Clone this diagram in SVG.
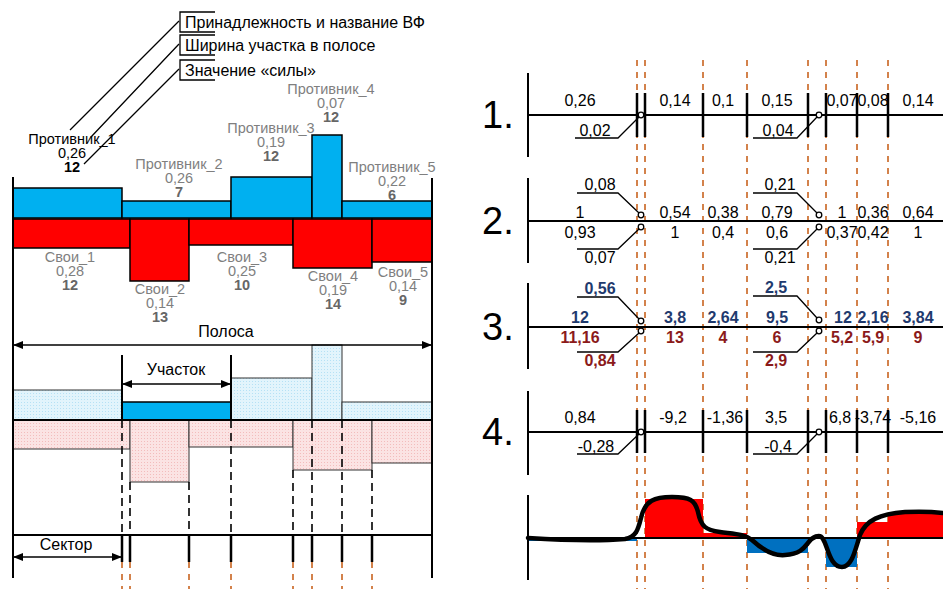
<svg xmlns="http://www.w3.org/2000/svg" width="943" height="589" viewBox="0 0 943 589">
<style>
text{font-family:"Liberation Sans",Arial,sans-serif;font-size:16px;fill:#000}
.s{font-size:14.5px}
.c{text-anchor:middle}
.g{fill:#7f7f7f}
.gd{fill:#666;font-weight:bold}
.b{font-weight:bold}
.nb{fill:#1f3a6e;font-weight:bold}
.nr{fill:#8b1a1a;font-weight:bold}
.big{font-size:38px}
.ln{stroke:#000;stroke-width:2;fill:none}
.thin{stroke:#000;stroke-width:1.3;fill:none}
.dk{stroke:#000;stroke-width:1.6;stroke-dasharray:8 5;fill:none}
.or{stroke:#c55a11;stroke-width:1.5;stroke-dasharray:6 6;fill:none}
.tk{stroke:#000;stroke-width:2.5}
.bl{fill:#00b0f0;stroke:#000;stroke-width:1.5}
.rd{fill:#ff0000;stroke:#000;stroke-width:1.5}
.lb{fill:url(#pb);stroke:#333;stroke-width:1}
.lr{fill:url(#pr);stroke:#333;stroke-width:1}
.cir{fill:#fff;stroke:#000;stroke-width:1.3}
</style>
<defs>
<marker id="ar" viewBox="0 0 10 8" refX="10" refY="4" markerWidth="10" markerHeight="8" markerUnits="userSpaceOnUse" orient="auto-start-reverse"><path d="M0,0 L10,4 L0,8 z" fill="#000"/></marker>
<pattern id="pb" width="3" height="3" patternUnits="userSpaceOnUse"><rect width="3" height="3" fill="#e2f4fc"/><rect width="1" height="1" fill="#b5e1f5"/></pattern>
<pattern id="pr" width="3" height="3" patternUnits="userSpaceOnUse"><rect width="3" height="3" fill="#fbe3e3"/><rect width="1" height="1" fill="#f3bcbc"/></pattern>
</defs>
<rect width="943" height="589" fill="#fff"/>

<g id="legend">
<path class="thin" d="M215,12 H180 V32 H215 M215,35 H180 V55 H215 M215,60 H180 V80 H215"/>
<path class="thin" d="M179,21 L70,130 M179,44 L91,137 M179,69 L84,164"/>
<text x="185" y="28">Принадлежность и название ВФ</text>
<text x="185" y="51">Ширина участка в полосе</text>
<text x="185" y="76">Значение «силы»</text>
</g>

<g id="enemy-bars">
<rect class="bl" x="13" y="188" width="109" height="30"/>
<rect class="bl" x="122" y="201" width="109" height="17"/>
<rect class="bl" x="231" y="177" width="81" height="41"/>
<rect class="bl" x="312" y="135" width="30" height="83"/>
<rect class="bl" x="342" y="201" width="90" height="17"/>
</g>
<g id="own-bars">
<rect class="rd" x="13" y="219" width="117" height="29"/>
<rect class="rd" x="130" y="219" width="59" height="62"/>
<rect class="rd" x="189" y="219" width="104" height="26"/>
<rect class="rd" x="293" y="219" width="79" height="49"/>
<rect class="rd" x="372" y="219" width="60" height="43"/>
</g>

<g id="enemy-labels" class="s">
<text class="c s" x="72" y="144">Противник_1</text>
<text class="c s" x="72" y="158">0,26</text>
<text class="c b s" x="72" y="172">12</text>
<text class="c g s" x="179" y="169">Противник_2</text>
<text class="c g s" x="179" y="183">0,26</text>
<text class="c gd s" x="179" y="197">7</text>
<text class="c g s" x="271" y="133">Противник_3</text>
<text class="c g s" x="271" y="147">0,19</text>
<text class="c gd s" x="271" y="161">12</text>
<text class="c g s" x="331" y="94">Противник_4</text>
<text class="c g s" x="331" y="108">0,07</text>
<text class="c gd s" x="331" y="122">12</text>
<text class="c g s" x="392" y="172">Противник_5</text>
<text class="c g s" x="392" y="186">0,22</text>
<text class="c gd s" x="392" y="200">6</text>
</g>
<g id="own-labels">
<text class="c g s" x="70" y="262">Свои_1</text>
<text class="c g s" x="70" y="276">0,28</text>
<text class="c gd s" x="70" y="290">12</text>
<text class="c g s" x="160" y="294">Свои_2</text>
<text class="c g s" x="160" y="308">0,14</text>
<text class="c gd s" x="160" y="322">13</text>
<text class="c g s" x="242" y="262">Свои_3</text>
<text class="c g s" x="242" y="276">0,25</text>
<text class="c gd s" x="242" y="290">10</text>
<text class="c g s" x="333" y="281">Свои_4</text>
<text class="c g s" x="333" y="295">0,19</text>
<text class="c gd s" x="333" y="309">14</text>
<text class="c g s" x="403" y="277">Свои_5</text>
<text class="c g s" x="403" y="291">0,14</text>
<text class="c gd s" x="403" y="305">9</text>
</g>

<g id="light-bars">
<rect class="lb" x="13" y="390" width="109" height="30"/>
<rect class="bl" x="122" y="402" width="109" height="18"/>
<rect class="lb" x="231" y="378" width="81" height="42"/>
<rect class="lb" x="312" y="345" width="30" height="75"/>
<rect class="lb" x="342" y="402" width="90" height="18"/>
<rect class="lr" x="13" y="420" width="117" height="29"/>
<rect class="lr" x="130" y="420" width="59" height="62"/>
<rect class="lr" x="189" y="420" width="104" height="27"/>
<rect class="lr" x="293" y="420" width="79" height="50"/>
<rect class="lr" x="372" y="420" width="60" height="43"/>
<line class="ln" x1="13" y1="420" x2="432" y2="420"/>
</g>

<g id="connectors">
<line class="ln" x1="13" y1="177" x2="13" y2="578"/>
<line class="ln" x1="432" y1="178" x2="432" y2="578"/>
<line class="thin" x1="13" y1="345" x2="432" y2="345" marker-start="url(#ar)" marker-end="url(#ar)"/>
<line class="ln" x1="122" y1="355" x2="122" y2="420"/>
<line class="ln" x1="231" y1="355" x2="231" y2="420"/>
<line class="thin" x1="122" y1="384" x2="231" y2="384" marker-start="url(#ar)" marker-end="url(#ar)"/>
<path class="dk" d="M122,420 V535 M130,482 V535 M189,482 V535 M231,420 V535 M293,470 V535 M312,420 V535 M342,420 V535 M372,470 V535"/>
<line class="ln" x1="13" y1="535" x2="432" y2="535"/>
<path class="tk" d="M122,535 V562 M130,535 V562 M189,535 V562 M231,535 V562 M293,535 V562 M312,535 V562 M342,535 V562 M372,535 V562"/>
<line class="thin" x1="13" y1="557" x2="122" y2="557" marker-start="url(#ar)" marker-end="url(#ar)"/>
<path class="or" d="M122,562 V589 M130,562 V589 M189,562 V589 M231,562 V589 M293,562 V589 M312,562 V589 M342,562 V589 M372,562 V589"/>
</g>
<g id="dim-labels">
<text class="c" x="226" y="337">Полоса</text>
<text class="c" x="176" y="375">Участок</text>
<text class="c" x="66" y="550">Сектор</text>
</g>

<g id="right-grid">
<path class="or" d="M637,60 V589 M645,60 V589 M703,60 V589 M747,60 V589 M808,60 V589 M826,60 V589 M857,60 V589 M888,60 V589"/>
</g>

<g id="row1">
<text class="big" x="482" y="128">1.</text>
<line class="ln" x1="528" y1="73" x2="528" y2="157"/>
<line class="ln" x1="528" y1="115" x2="943" y2="115"/>
<path class="tk" stroke-width="2" d="M637,93 V137 M645,93 V137 M703,93 V137 M747,93 V137 M808,93 V137 M826,93 V137 M857,93 V137 M888,93 V137"/>
<text class="c" x="580" y="106">0,26</text>
<text class="c" x="675" y="106">0,14</text>
<text class="c" x="723" y="106">0,1</text>
<text class="c" x="777" y="106">0,15</text>
<text class="c" x="842" y="106">0,07</text>
<text class="c" x="873" y="106">0,08</text>
<text class="c" x="918" y="106">0,14</text>
<polyline class="thin" points="575,138 618,138 639,117"/>
<circle class="cir" cx="641" cy="115" r="2.8"/>
<text class="c" x="595" y="136">0,02</text>
<polyline class="thin" points="753,138 797,138 817,117"/>
<circle class="cir" cx="819" cy="115" r="2.8"/>
<text class="c" x="778" y="136">0,04</text>
</g>

<g id="row2">
<text class="big" x="482" y="234">2.</text>
<line class="ln" x1="528" y1="178" x2="528" y2="263"/>
<line class="ln" x1="528" y1="221" x2="943" y2="221"/>
<text class="c" x="580" y="218">1</text>
<text class="c" x="675" y="218">0,54</text>
<text class="c" x="723" y="218">0,38</text>
<text class="c" x="777" y="218">0,79</text>
<text class="c" x="842" y="218">1</text>
<text class="c" x="873" y="218">0,36</text>
<text class="c" x="918" y="218">0,64</text>
<text class="c" x="580" y="238">0,93</text>
<text class="c" x="675" y="238">1</text>
<text class="c" x="723" y="238">0,4</text>
<text class="c" x="777" y="238">0,6</text>
<text class="c" x="842" y="238">0,37</text>
<text class="c" x="873" y="238">0,42</text>
<text class="c" x="918" y="238">1</text>
<polyline class="thin" points="577,193 618,193 639,213"/>
<circle class="cir" cx="641" cy="215" r="2.8"/>
<text class="c" x="600" y="190">0,08</text>
<polyline class="thin" points="577,249 618,249 639,229"/>
<circle class="cir" cx="641" cy="227" r="2.8"/>
<text class="c" x="600" y="263">0,07</text>
<polyline class="thin" points="753,193 797,193 817,213"/>
<circle class="cir" cx="819" cy="215" r="2.8"/>
<text class="c" x="780" y="190">0,21</text>
<polyline class="thin" points="753,249 797,249 817,229"/>
<circle class="cir" cx="819" cy="227" r="2.8"/>
<text class="c" x="780" y="263">0,21</text>
</g>

<g id="row3">
<text class="big" x="482" y="340">3.</text>
<line class="ln" x1="528" y1="283" x2="528" y2="369"/>
<line class="ln" x1="528" y1="327" x2="943" y2="327"/>
<text class="c nb" x="580" y="323">12</text>
<text class="c nb" x="675" y="323">3,8</text>
<text class="c nb" x="723" y="323">2,64</text>
<text class="c nb" x="777" y="323">9,5</text>
<text class="c nb" x="843" y="323">12</text>
<text class="c nb" x="873" y="323">2,16</text>
<text class="c nb" x="918" y="323">3,84</text>
<text class="c nr" x="580" y="343">11,16</text>
<text class="c nr" x="675" y="343">13</text>
<text class="c nr" x="723" y="343">4</text>
<text class="c nr" x="777" y="343">6</text>
<text class="c nr" x="842" y="343">5,2</text>
<text class="c nr" x="873" y="343">5,9</text>
<text class="c nr" x="918" y="343">9</text>
<polyline class="thin" points="577,297 618,297 639,319"/>
<circle class="cir" cx="641" cy="321" r="2.8"/>
<text class="c nb" x="600" y="294">0,56</text>
<polyline class="thin" points="577,352 618,352 639,333"/>
<circle class="cir" cx="641" cy="331" r="2.8"/>
<text class="c nr" x="600" y="366">0,84</text>
<polyline class="thin" points="753,296 797,296 817,318"/>
<circle class="cir" cx="819" cy="320" r="2.8"/>
<text class="c nb" x="776" y="293">2,5</text>
<polyline class="thin" points="753,352 797,352 817,333"/>
<circle class="cir" cx="819" cy="331" r="2.8"/>
<text class="c nr" x="776" y="366">2,9</text>
</g>

<g id="row4">
<text class="big" x="482" y="445">4.</text>
<line class="ln" x1="528" y1="391" x2="528" y2="475"/>
<line class="ln" x1="528" y1="432" x2="943" y2="432"/>
<path class="tk" stroke-width="2" d="M637,410 V453 M645,410 V453 M703,410 V453 M747,410 V453 M808,410 V453 M826,410 V453 M857,410 V453 M888,410 V453"/>
<text class="c" x="580" y="423">0,84</text>
<text class="c" x="673" y="423">-9,2</text>
<text class="c" x="725" y="423">-1,36</text>
<text class="c" x="776" y="423">3,5</text>
<text class="c" x="840" y="423">6,8</text>
<text class="c" x="873" y="423">-3,74</text>
<text class="c" x="918" y="423">-5,16</text>
<polyline class="thin" points="577,454 618,454 639,434"/>
<circle class="cir" cx="641" cy="432" r="2.8"/>
<text class="c" x="596" y="452">-0,28</text>
<polyline class="thin" points="753,454 797,454 817,434"/>
<circle class="cir" cx="819" cy="432" r="2.8"/>
<text class="c" x="778" y="452">-0,4</text>
</g>

<g id="result-chart">
<rect x="528" y="538" width="109" height="3" fill="#0070c0"/>
<rect x="645" y="499" width="58" height="39" fill="#ff0000"/>
<rect x="703" y="533" width="44" height="5" fill="#ff0000"/>
<rect x="747" y="538" width="61" height="15" fill="#0070c0"/>
<rect x="826" y="538" width="31" height="29" fill="#0070c0"/>
<rect x="857" y="522" width="31" height="16" fill="#ff0000"/>
<rect x="888" y="514" width="55" height="24" fill="#ff0000"/>
<line class="ln" x1="528" y1="495" x2="528" y2="580"/>
<line class="ln" x1="528" y1="538" x2="943" y2="538"/>
<path d="M528,538 C560,540 600,541 625,539 C636,537 638,530 641,518 C645,500 655,497 672,497 C690,497 695,500 698,512 C701,527 706,530 720,532 C735,534 745,534 752,540 C765,552 775,556 785,555 C800,554 804,548 808,543 C812,537 820,533 823,539 C828,547 830,567 842,567 C852,567 855,550 860,535 C866,520 880,514 905,512 C925,511 935,512 943,513" fill="none" stroke="#000" stroke-width="4.5" stroke-linecap="round"/>
</g>
</svg>
